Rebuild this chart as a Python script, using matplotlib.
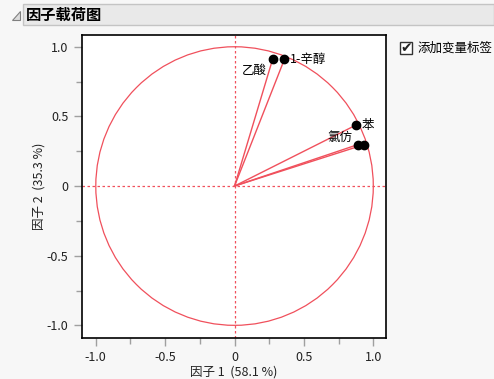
import numpy as np
import matplotlib
matplotlib.use("Agg")
import matplotlib.pyplot as plt
from matplotlib.patches import Circle, Rectangle, Polygon
from matplotlib.ticker import MultipleLocator

plt.rcParams['font.family'] = ['Noto Sans CJK SC', 'DejaVu Sans']

# factor loadings
var_names = ['乙酸', '1-辛醇', '苯', '氯仿', '']
factor1 = [0.274, 0.359, 0.874, 0.890, 0.936]
factor2 = [0.909, 0.909, 0.437, 0.298, 0.298]

title = '因子载荷图'
xlabel = '因子 1  (58.1 %)'
ylabel = '因子 2  (35.3 %)'
check_label = '添加变量标签'
ticks = [-1.0, -0.5, 0, 0.5, 1.0]
tick_labels = ['-1.0', '-0.5', '0', '0.5', '1.0']

red = '#f0505c'
bg = '#f7f7f7'

fig = plt.figure(figsize=(4.94, 3.79), dpi=100, facecolor=bg)

# header bar
fig.patches.append(Rectangle((23 / 494, 1 - 25 / 379), 471 / 494, 21 / 379,
                             transform=fig.transFigure, facecolor='#e9e9e9',
                             edgecolor='#c4c4c4', lw=1))
fig.patches.append(Polygon([(12 / 494, 1 - 20 / 379), (20 / 494, 1 - 20 / 379),
                            (20 / 494, 1 - 11 / 379)], closed=True,
                           transform=fig.transFigure, facecolor='#dcdcdc',
                           edgecolor='#808080', lw=0.8))
fig.text(26 / 494, 1 - 15 / 379, title, fontsize=11, fontweight='bold',
         va='center', ha='left', color='black')

ax = fig.add_axes([81.5 / 494, 1 - 338 / 379, 304 / 494, 303.5 / 379])
ax.set_facecolor('white')
ax.set_xlim(-1.103, 1.088)
ax.set_ylim(-1.091, 1.088)

ax.add_patch(Circle((0, 0), 1.0, fill=False, edgecolor=red, lw=0.9))
ax.axhline(0, color=red, lw=0.9, ls=(0, (2, 2)))
ax.axvline(0, color=red, lw=0.9, ls=(0, (2, 2)))

for x, y in zip(factor1, factor2):
    ax.plot([0, x], [0, y], color=red, lw=1.0)
ax.plot(factor1, factor2, 'o', color='black', ms=6, zorder=5)

offsets = {'乙酸': (-4, -3, 'right', 'top'),
           '1-辛醇': (4, 0, 'left', 'center'),
           '苯': (4, 0, 'left', 'center'),
           '氯仿': (-4, 5, 'right', 'center')}
for name, x, y in zip(var_names, factor1, factor2):
    if not name:
        continue
    dx, dy, ha, va = offsets[name]
    ax.annotate(name, (x, y), xytext=(dx, dy), textcoords='offset points',
                ha=ha, va=va, fontsize=9, color='black')

ax.set_xticks(ticks)
ax.set_xticklabels(tick_labels)
ax.set_yticks(ticks)
ax.set_yticklabels(tick_labels)
ax.xaxis.set_minor_locator(MultipleLocator(0.25))
ax.yaxis.set_minor_locator(MultipleLocator(0.25))
ax.tick_params(which='both', direction='out', color='#a0a0a0', width=1,
               labelsize=9, labelcolor='#222222')
ax.tick_params(which='major', length=6)
ax.tick_params(which='minor', length=4)
for t in ax.xaxis.get_major_ticks() + ax.yaxis.get_major_ticks():
    if t.get_loc() == 0:
        t.tick1line.set_color(red)
for s in ax.spines.values():
    s.set_color('black')
    s.set_linewidth(1.2)

ax.set_xlabel(xlabel, fontsize=9, color='#222222', labelpad=1)
ax.set_ylabel(ylabel, fontsize=9, color='#222222', labelpad=1)

# checkbox
fig.patches.append(Rectangle((400 / 494, 1 - 54 / 379), 12 / 494, 12 / 379,
                             transform=fig.transFigure, facecolor='white',
                             edgecolor='#333333', lw=1))
fig.text(406 / 494, 1 - 48.5 / 379, '✔', fontsize=10,
         ha='center', va='center', color='#222222', family='DejaVu Sans')
fig.text(418 / 494, 1 - 48 / 379, check_label, fontsize=9, ha='left',
         va='center', color='black')

fig.savefig('out.png', dpi=100, facecolor=bg)
